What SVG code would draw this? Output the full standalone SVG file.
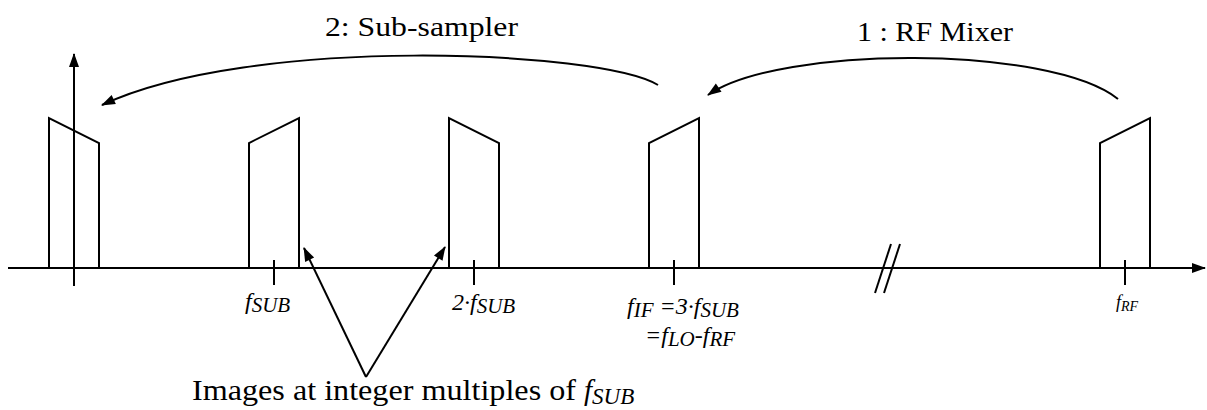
<svg xmlns="http://www.w3.org/2000/svg" width="1207" height="410" viewBox="0 0 1207 410">
<defs>
<marker id="ah" markerUnits="userSpaceOnUse" markerWidth="14" markerHeight="11" refX="13" refY="5.5" orient="auto" overflow="visible">
<path d="M0,0.5 L14,5.5 L0,10.5 z" fill="#000"/>
</marker>
</defs>
<style>
.ln{fill:none;stroke:#000;stroke-width:2}
.arr{fill:none;stroke:#000;stroke-width:2;marker-end:url(#ah)}
text{font-family:'Liberation Serif','Times New Roman',Times,'DejaVu Serif',serif;fill:#000}
.ttl{font-size:28px}
.lab{font-style:italic;font-size:24px}
.sub{font-size:21px}
</style>
<rect width="1207" height="410" fill="#fff"/>
<g id="axes">
<line class="arr" x1="8" y1="268" x2="1205" y2="268"/>
<line class="arr" x1="74" y1="286" x2="74" y2="54"/>
<line class="ln" x1="875" y1="293" x2="891" y2="244"/>
<line class="ln" x1="884" y1="293" x2="900" y2="244"/>
</g>
<g id="band0"><path class="ln" d="M49,268 V118 L99,143 V268"/></g>
<g id="band1"><path class="ln" d="M249,268 V143 L299,118 V268"/><line class="ln" x1="274" y1="260" x2="274" y2="285"/>
<text class="lab" x="245" y="309">f<tspan class="sub" y="312">SUB</tspan></text></g>
<g id="band2"><path class="ln" d="M449,268 V118 L499,143 V268"/><line class="ln" x1="474" y1="260" x2="474" y2="285"/>
<text class="lab" x="452" y="310">2·f<tspan class="sub" y="313">SUB</tspan></text></g>
<g id="band3"><path class="ln" d="M649,268 V143 L699,118 V268"/><line class="ln" x1="674" y1="260" x2="674" y2="285"/>
<text class="lab" x="627" y="314">f<tspan class="sub" y="317">IF</tspan><tspan y="314"> =3·f</tspan><tspan class="sub" y="317">SUB</tspan></text>
<text class="lab" x="645" y="343">=f<tspan class="sub" y="346">LO</tspan><tspan y="343">-f</tspan><tspan class="sub" y="346">RF</tspan></text></g>
<g id="band4"><path class="ln" d="M1100,268 V143 L1150,118 V268"/><line class="ln" x1="1125" y1="260" x2="1125" y2="285"/>
<text class="lab" x="1116" y="308" style="font-size:18px">f<tspan y="311" style="font-size:14px">RF</tspan></text></g>
<g id="connectors">
<path class="arr" d="M658,85 C600,50 250,35 102,105"/>
<path class="arr" d="M1118,99 C1050,45 780,45 708,95"/>
<line class="arr" x1="366" y1="377" x2="304" y2="248"/>
<line class="arr" x1="366" y1="377" x2="445" y2="247"/>
</g>
<g id="labels">
<text class="ttl" x="325" y="36" textLength="193" lengthAdjust="spacingAndGlyphs">2: Sub-sampler</text>
<text class="ttl" x="857" y="41" textLength="156" lengthAdjust="spacingAndGlyphs">1 : RF Mixer</text>
<text class="ttl" x="192" y="400" style="font-size:29px" textLength="384" lengthAdjust="spacingAndGlyphs">Images at integer multiples of</text>
<text class="lab" x="584" y="400" style="font-size:29px">f<tspan y="404" style="font-size:23px">SUB</tspan></text>
</g>
</svg>
